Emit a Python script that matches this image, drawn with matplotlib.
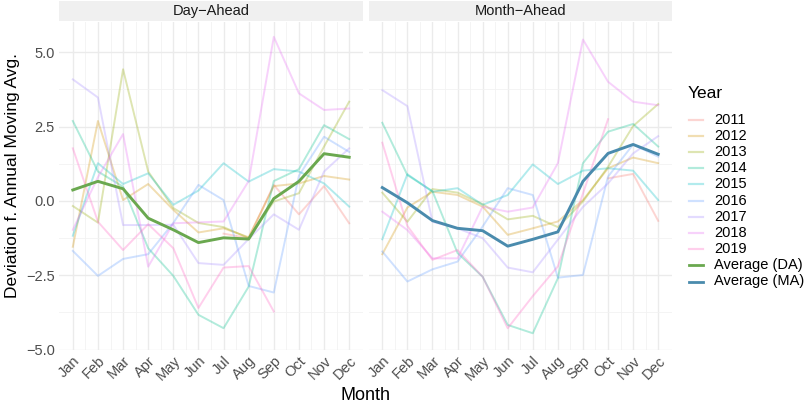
import numpy as np
import matplotlib
matplotlib.use("Agg")
import matplotlib.pyplot as plt
from matplotlib.lines import Line2D

plt.rcParams['font.family'] = ['Liberation Sans', 'DejaVu Sans']

months = ['Jan', 'Feb', 'Mar', 'Apr', 'May', 'Jun', 'Jul', 'Aug', 'Sep', 'Oct', 'Nov', 'Dec']
years = ['2011', '2012', '2013', '2014', '2015', '2016', '2017', '2018', '2019']
nan = np.nan

# Day-Ahead deviations
da_2011 = [nan, nan, nan, nan, nan, nan, -1.10, -1.25, 0.54, -0.45, 0.50, -0.75]
da_2012 = [-1.54, 2.69, 0.03, 0.57, -0.30, -1.06, -0.92, -1.22, 0.50, 0.59, 0.84, 0.72]
da_2013 = [-0.17, -0.73, 4.43, 0.99, -0.24, -0.74, -0.88, -1.25, -0.02, 0.26, 1.83, 3.34]
da_2014 = [2.69, 0.99, 0.48, -1.59, -2.52, -3.83, -4.28, -2.88, 0.67, 1.07, 2.55, 2.08]
da_2015 = [-1.17, 1.27, 0.57, 0.93, -0.13, 0.35, 1.27, 0.65, 1.07, 0.99, 0.59, -0.19]
da_2016 = [-1.68, -2.52, -1.95, -1.79, -0.74, 0.54, 0.03, -2.86, -3.08, 0.85, 2.16, 1.65]
da_2017 = [4.09, 3.48, -0.81, -0.81, -0.80, -2.09, -2.15, -1.28, -0.45, -0.97, 0.99, 1.77]
da_2018 = [-0.97, 0.80, 2.25, -2.21, -0.75, -0.72, -0.69, 0.67, 5.52, 3.62, 3.06, 3.11]
da_2019 = [1.77, -0.70, -1.65, -0.78, -1.59, -3.60, -2.24, -2.19, -3.72, nan, nan, nan]
da_avg = [0.37, 0.66, 0.41, -0.58, -0.97, -1.40, -1.24, -1.28, 0.08, 0.66, 1.59, 1.47]

# Month-Ahead deviations
ma_2011 = [nan, nan, nan, nan, nan, nan, nan, nan, nan, 0.76, 0.91, -0.67]
ma_2012 = [-1.79, -0.22, 0.31, 0.20, -0.19, -1.14, -0.92, -0.69, 0.03, 1.10, 1.46, 1.27]
ma_2013 = [0.28, -0.70, 0.40, 0.28, -0.11, -0.62, -0.50, -0.88, -0.02, 1.15, 2.52, 3.26]
ma_2014 = [2.63, 0.87, 0.33, -1.75, -2.55, -4.17, -4.45, -2.60, 1.27, 2.33, 2.59, 1.83]
ma_2015 = [-1.29, 0.90, 0.31, 0.43, -0.13, 0.20, 1.23, 0.57, 1.02, 1.10, 1.02, 0.03]
ma_2016 = [-1.70, -2.71, -2.30, -2.04, -0.86, 0.43, 0.20, -2.58, -2.49, 0.82, 1.90, 1.49]
ma_2017 = [3.73, 3.19, -0.70, -0.92, -1.25, -2.24, -2.40, -1.30, -0.20, 0.59, 1.60, 2.18]
ma_2018 = [-0.36, -0.98, -1.93, -1.93, -0.19, -0.36, -0.22, 1.27, 5.43, 4.01, 3.34, 3.22]
ma_2019 = [1.96, -0.84, -1.98, -1.65, -2.55, -4.28, -3.20, -2.20, 0.25, 2.75, nan, nan]
ma_avg = [0.45, -0.06, -0.66, -0.92, -1.00, -1.52, -1.29, -1.04, 0.66, 1.60, 1.90, 1.57]

da_years = [da_2011, da_2012, da_2013, da_2014, da_2015, da_2016, da_2017, da_2018, da_2019]
ma_years = [ma_2011, ma_2012, ma_2013, ma_2014, ma_2015, ma_2016, ma_2017, ma_2018, ma_2019]

year_colors = ['#F8766D', '#D39200', '#93AA00', '#00C08B', '#00BFC4',
               '#619CFF', '#A58AFF', '#E76BF3', '#FF61C3']
da_color = '#6AA84F'
ma_color = '#4A8BAD'
year_alpha = 0.3

y_ticks = [-5.0, -2.5, 0.0, 2.5, 5.0]
y_ticklabels = ['\u22125.0', '\u22122.5', '0.0', '2.5', '5.0']
y_minor = [-3.75, -1.25, 1.25, 3.75]

W, H = 810, 405
fig = plt.figure(figsize=(W / 100, H / 100), dpi=100)

x = np.arange(1, 13)
panels = [
    ('Day\u2212Ahead', da_years, da_avg, da_color, 59.0, 363.0),
    ('Month\u2212Ahead', ma_years, ma_avg, ma_color, 368.5, 672.0),
]
ptop, pbot = 22.0, 349.6
for i, (title, yrs, avg, acol, x0, x1) in enumerate(panels):
    ax = fig.add_axes([x0 / W, 1 - pbot / H, (x1 - x0) / W, (pbot - ptop) / H])
    ax.set_facecolor('white')
    ax.set_xlim(0.45, 12.55)
    ax.set_ylim(-5.0, 6.02)
    ax.set_xticks(x)
    ax.set_xticks(x[:-1] + 0.5, minor=True)
    ax.set_yticks(y_ticks)
    ax.set_yticks(y_minor, minor=True)
    ax.grid(True, which='major', color='#EBEBEB', lw=1.0)
    ax.grid(True, which='minor', color='#F2F2F2', lw=0.6)
    ax.set_axisbelow(True)
    for s in ax.spines.values():
        s.set_visible(False)
    ax.tick_params(which='both', length=0)
    ax.set_xticklabels(months, rotation=45, ha='right', va='top', rotation_mode='anchor',
                       fontsize=10.5, color='#4D4D4D')
    ax.tick_params(axis='x', pad=3)
    if i == 0:
        ax.set_yticklabels(y_ticklabels, fontsize=10.5, color='#4D4D4D')
        ax.tick_params(axis='y', pad=3)
    else:
        ax.set_yticklabels([])
    for vals, col in zip(yrs, year_colors):
        ax.plot(x, vals, color=col, alpha=year_alpha, lw=1.4)
    ax.plot(x, avg, color=acol, lw=2.1)

    sax = fig.add_axes([x0 / W, 1 - 21 / H, (x1 - x0) / W, 20 / H])
    sax.set_facecolor('#F0F0F0')
    sax.set_xticks([])
    sax.set_yticks([])
    for s in sax.spines.values():
        s.set_visible(False)
    sax.text(0.5, 0.5, title, ha='center', va='center', fontsize=10.5, color='#1A1A1A',
             transform=sax.transAxes)

fig.text(365 / W, 1 - 396 / H, 'Month', ha='center', va='center', fontsize=13, color='black')
fig.text(13 / W, 1 - 176 / H, 'Deviation f. Annual Moving Avg.', ha='center', va='center',
         rotation=90, fontsize=12.5, color='black')

# legend
fig.text(688 / W, 1 - 93 / H, 'Year', ha='left', va='center', fontsize=12.5, color='black')
labels = years + ['Average (DA)', 'Average (MA)']
cols = year_colors + [da_color, ma_color]
alphas = [year_alpha] * len(years) + [1.0, 1.0]
for k, (lab, c, a) in enumerate(zip(labels, cols, alphas)):
    yy = 1 - (119.5 + k * 16.2) / H
    fig.add_artist(Line2D([689 / W, 703 / W], [yy, yy], color=c, alpha=a,
                          lw=1.6 if a < 1 else 2.0, transform=fig.transFigure))
    fig.text(714 / W, yy, lab, ha='left', va='center', fontsize=10.5, color='black')

fig.savefig('out.png', dpi=100, facecolor='white')
